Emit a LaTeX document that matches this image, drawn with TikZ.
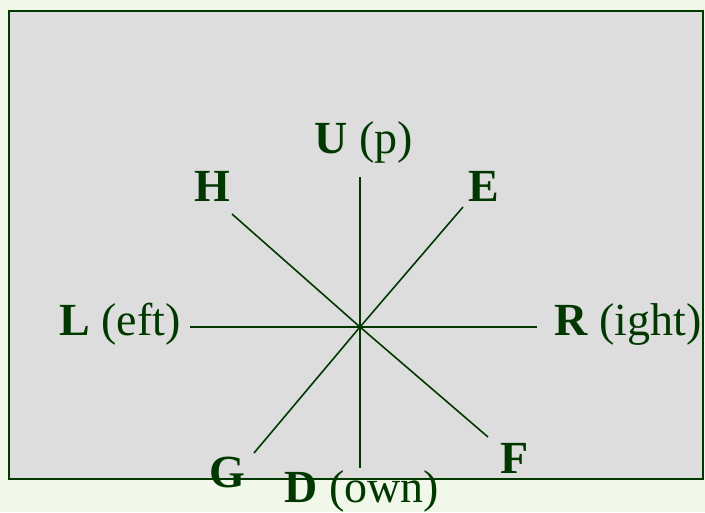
\documentclass[tikz,border=0pt]{standalone}
\usepackage{fontspec}
\setmainfont{Liberation Serif}
\usepackage{xcolor}
\definecolor{pagebg}{RGB}{241,247,233}
\definecolor{panel}{RGB}{221,221,221}
\definecolor{darkgreen}{RGB}{0,56,0}

\begin{document}
\begin{tikzpicture}[x=1pt, y=-1pt,
  dir/.style={text=darkgreen, inner sep=0pt, anchor=base, font=\fontsize{46}{55}\selectfont},
  spoke/.style={draw=darkgreen, line width=1.6pt}]
% Page and panel
\useasboundingbox (0,0) rectangle (705,512);
\fill[pagebg] (0,0) rectangle (705,512);
\filldraw[fill=panel, draw=darkgreen, line width=2.8pt] (9,11) rectangle (703,479);
% Centre and spoke ends
\coordinate (c) at (360,327);
\coordinate (up) at (360,177);
\coordinate (down) at (360,468);
\coordinate (left) at (190,327);
\coordinate (right) at (537,327);
\coordinate (h) at (232,214);
\coordinate (f) at (488,437);
\coordinate (e) at (463,207);
\coordinate (g) at (254,453);
% Spokes
\draw[spoke] (c) -- (up);
\draw[spoke] (c) -- (down);
\draw[spoke] (c) -- (left);
\draw[spoke] (c) -- (right);
\draw[spoke] (c) -- (h);
\draw[spoke] (c) -- (f);
\draw[spoke] (c) -- (e);
\draw[spoke] (c) -- (g);
% Labels
\node[dir] (lu) at (364,153) {\textbf{U} (p)};
\node[dir] (lh) at (212,201) {\textbf{H}};
\node[dir] (le) at (484,201) {\textbf{E}};
\node[dir] (ll) at (120,335) {\textbf{L} (eft)};
\node[dir] (lr) at (628,335) {\textbf{R} (ight)};
\node[dir] (lg) at (227,487) {\textbf{G}};
\node[dir] (lf) at (515,473) {\textbf{F}};
\node[dir] (ld) at (362,502) {\textbf{D} (own)};
\end{tikzpicture}
\end{document}
